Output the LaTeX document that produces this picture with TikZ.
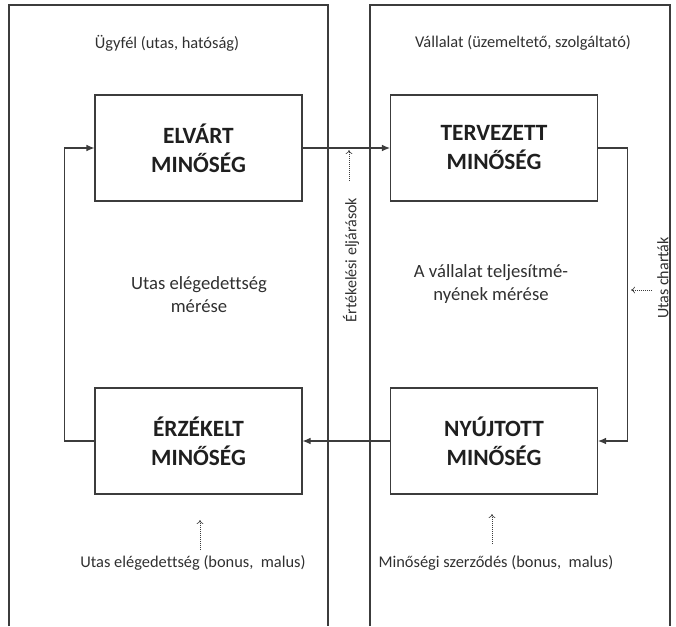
\documentclass[tikz,border=0pt]{standalone}
\usepackage{fontspec}
\setmainfont{Carlito}[Ligatures={NoCommon}]
\usetikzlibrary{arrows.meta}
\definecolor{linec}{HTML}{3C3C3C}
\definecolor{txtc}{HTML}{303030}
\begin{document}
\begin{tikzpicture}[x=0.75pt,y=-0.75pt,
  panel/.style={draw=linec, line width=0.8pt},
  qbox/.style={draw=linec, line width=0.8pt, minimum width=155.25pt, minimum height=79.5pt,
    align=center, inner sep=0pt, text=black!88,
    font=\fontsize{17.5}{21.75}\selectfont\bfseries},
  conn/.style={draw=linec, line width=0.8pt, -{Latex[length=6pt,width=5pt]}},
  dotarrow/.style={draw=linec, line width=0.5pt, densely dotted, -{To[length=3pt,width=5pt]}},
  lbl/.style={text=txtc, inner sep=0pt, font=\fontsize{12.3}{15}\selectfont},
  midtxt/.style={text=txtc, inner sep=0pt, align=center, font=\fontsize{14}{17.25}\selectfont},
  rottxt/.style={text=txtc, inner sep=0pt, rotate=90, font=\fontsize{12}{14}\selectfont}
]
\useasboundingbox (0,0) rectangle (676,626);
% panels (open at the bottom)
\draw[panel] (9,626) -- (9,5) -- (328,5) -- (328,626);
\draw[panel] (370,626) -- (370,5) -- (670,5) -- (670,626);
% headings
\node[lbl] (ugy) at (167,43) {Ügyfél (utas, hatóság)};
\node[lbl] (val) at (523,43) {Vállalat (üzemeltető, szolgáltató)};
% boxes
\node[qbox] (elv) at (198.5,148) {ELVÁRT\\MINŐSÉG};
\node[qbox] (terv) at (494,148) {TERVEZETT\\MINŐSÉG};
\node[qbox] (erz) at (198.5,441) {ÉRZÉKELT\\MINŐSÉG};
\node[qbox] (nyuj) at (494,441) {NYÚJTOTT\\MINŐSÉG};
% connectors
\draw[conn] (elv.east) -- (terv.west);
\draw[conn] (terv.east) -- ++(29,0) |- (nyuj.east);
\draw[conn] (nyuj.west) -- (erz.east);
\draw[conn] (erz.west) -- ++(-30,0) |- (elv.west);
% middle texts
\node[midtxt] (m1) at (199,295) {Utas elégedettség\\mérése};
\node[midtxt] (m2) at (491,284) {A vállalat teljesítmé-\\nyének mérése};
% rotated labels
\node[rottxt] (ert) at (351,260) {Értékelési eljárások};
\node[rottxt] (uch) at (663,278) {Utas charták};
% bottom labels
\node[lbl] (b1) at (193,563) {Utas elégedettség (bonus,\ \ malus)};
\node[lbl] (b2) at (496,563) {Minőségi szerződés (bonus,\ \ malus)};
% dotted arrows
\coordinate (d1s) at (349,181); \coordinate (d1e) at (349,150);
\coordinate (d2s) at (652,290); \coordinate (d2e) at (631,290);
\coordinate (d3s) at (200,550); \coordinate (d3e) at (200,520);
\coordinate (d4s) at (492,544); \coordinate (d4e) at (492,514);
\draw[dotarrow] (d1s) -- (d1e);
\draw[dotarrow] (d2s) -- (d2e);
\draw[dotarrow] (d3s) -- (d3e);
\draw[dotarrow] (d4s) -- (d4e);
\end{tikzpicture}
\end{document}
